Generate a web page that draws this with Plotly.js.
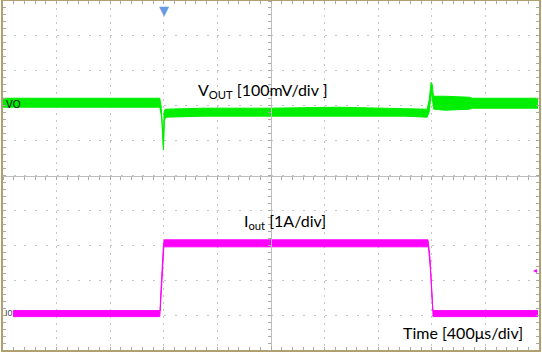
<!DOCTYPE html>
<html>
<head>
<meta charset="utf-8">
<script src="https://cdn.plot.ly/plotly-3.0.1.min.js"></script>
<style>html,body{margin:0;padding:0;background:#fff;}#chart{width:542px;height:352px;}</style>
</head>
<body>
<div id="chart"></div>
<script>
// Oscilloscope capture: 10 x 400 us horizontal divisions, vertical values in screen divisions (-5..5)
// VOUT channel (green) noise-band envelope, 100 mV/div
const voutTimeUpper = [0, 1170, 1180, 1190, 1197, 1202, 1212, 1500, 2000, 2500, 3000, 3165, 3180, 3195, 3203, 3212, 3300, 3480, 3500, 3993];
const voutUpper     = [2.214, 2.214, 2.0, 1.443, 0.871, 1.829, 1.9, 1.929, 1.929, 1.957, 1.929, 1.9, 2.157, 2.671, 2.614, 2.271, 2.271, 2.243, 2.214, 2.214];
const voutTimeLower = [0, 1170, 1185, 1197, 1205, 1215, 1500, 2000, 2500, 3000, 3165, 3180, 3197, 3208, 3215, 3300, 3480, 3500, 3993];
const voutLower     = [1.957, 1.957, 1.643, 0.729, 1.586, 1.671, 1.7, 1.7, 1.7, 1.7, 1.671, 1.814, 2.386, 2.157, 1.9, 1.871, 1.9, 1.929, 1.929];
// IOUT channel (magenta) noise-band envelope, 1 A/div
const ioutTimeUpper = [75, 1172, 1179, 1187, 1198, 1203, 3172, 3187, 3200, 3208, 3993];
const ioutUpper     = [-3.871, -3.871, -3.271, -2.557, -1.957, -1.843, -1.843, -2.386, -3.243, -3.871, -3.871];
const ioutTimeLower = [75, 1170, 1178, 1188, 1200, 1206, 3175, 3190, 3203, 3210, 3993];
const ioutLower     = [-4.043, -4.043, -3.557, -2.7, -2.071, -2.043, -2.043, -2.7, -3.557, -4.043, -4.043];
const triggerTime = 1200;
const labels = {
  vout: 'V<sub>OUT</sub> [100mV/div ]',
  iout: 'I<sub>out</sub> [1A/div]',
  time: 'Time [400\u03bcs/div]'
};

const green = 'rgb(0,238,0)';
const magenta = 'rgb(255,0,255)';
const traces = [
  {x: voutTimeLower, y: voutLower, mode: 'lines', line: {color: green, width: 1}, xaxis: 'x', yaxis: 'y', hoverinfo: 'skip'},
  {x: voutTimeUpper, y: voutUpper, mode: 'lines', line: {color: green, width: 1}, fill: 'tonexty', fillcolor: green, xaxis: 'x', yaxis: 'y', hoverinfo: 'skip'},
  {x: ioutTimeLower, y: ioutLower, mode: 'lines', line: {color: magenta, width: 1}, xaxis: 'x2', yaxis: 'y2', hoverinfo: 'skip'},
  {x: ioutTimeUpper, y: ioutUpper, mode: 'lines', line: {color: magenta, width: 1}, fill: 'tonexty', fillcolor: magenta, xaxis: 'x2', yaxis: 'y2', hoverinfo: 'skip'}
];

const frame = '#b0a070';
const tickc = '#a8a8a8';
const gridc = '#c4c4c4';
const txtFont = {family: 'Lato, "Open Sans", sans-serif', size: 16, color: '#000'};

const layout = {
  width: 542, height: 352,
  margin: {l: 3, r: 3, t: 1, b: 2, pad: 0},
  paper_bgcolor: '#fff', plot_bgcolor: '#fff',
  showlegend: false,
  xaxis: {
    range: [0, 4000], tick0: 0, dtick: 400, showticklabels: false,
    showgrid: true, gridcolor: gridc, gridwidth: 1, griddash: '2px,5px',
    zeroline: false, showline: true, linecolor: frame, linewidth: 2, mirror: 'ticks',
    ticks: 'inside', ticklen: 3, tickcolor: tickc, tickwidth: 1,
    minor: {dtick: 80, ticks: 'inside', ticklen: 3, tickcolor: tickc, showgrid: false},
    fixedrange: true
  },
  yaxis: {
    range: [-5, 5], tick0: 0, dtick: 1, showticklabels: false,
    showgrid: true, gridcolor: gridc, gridwidth: 1, griddash: '2px,8.72px',
    zeroline: false, showline: true, linecolor: frame, linewidth: 2, mirror: 'ticks',
    ticks: 'inside', ticklen: 3, tickcolor: tickc, tickwidth: 1,
    minor: {dtick: 0.2, ticks: 'inside', ticklen: 3, tickcolor: tickc, showgrid: false},
    fixedrange: true
  },
  xaxis2: {
    overlaying: 'x', anchor: 'free', position: 0.5, range: [0, 4000], tick0: 0, dtick: 400,
    showticklabels: false, showgrid: false, zeroline: false,
    showline: true, linecolor: '#bdbdbd', linewidth: 1,
    ticks: 'outside', ticklen: 3, tickcolor: tickc,
    minor: {dtick: 80, ticks: 'outside', ticklen: 3, tickcolor: tickc, showgrid: false},
    fixedrange: true
  },
  yaxis2: {
    overlaying: 'y', anchor: 'free', position: 0.5, range: [-5, 5], tick0: 0, dtick: 1,
    showticklabels: false, showgrid: false, zeroline: false,
    showline: true, linecolor: '#bdbdbd', linewidth: 1,
    ticks: 'outside', ticklen: 3, tickcolor: tickc,
    minor: {dtick: 0.2, ticks: 'outside', ticklen: 3, tickcolor: tickc, showgrid: false},
    fixedrange: true
  },
  annotations: [
    {text: labels.vout, x: 1440, y: 2.44, xref: 'x', yref: 'y', xanchor: 'left', yanchor: 'middle', showarrow: false, font: txtFont},
    {text: labels.iout, x: 1780, y: -1.33, xref: 'x', yref: 'y', xanchor: 'left', yanchor: 'middle', showarrow: false, font: txtFont},
    {text: labels.time, x: 2970, y: -4.5, xref: 'x', yref: 'y', xanchor: 'left', yanchor: 'middle', showarrow: false, font: txtFont},
    {text: 'VO', x: 7, y: 2.04, xref: 'x', yref: 'y', xanchor: 'left', yanchor: 'middle', showarrow: false, font: {family: 'Liberation Sans, sans-serif', size: 10, color: '#000'}},
    {text: 'I0', x: 0, y: -3.93, xref: 'x', yref: 'y', xanchor: 'left', yanchor: 'middle', showarrow: false, font: {family: 'Liberation Sans, sans-serif', size: 9, color: '#444'}},
    {text: '\u25BC', x: triggerTime, y: 1, xref: 'x', yref: 'paper', xanchor: 'center', yanchor: 'top', showarrow: false, font: {family: 'DejaVu Sans', size: 13, color: '#6a9ae0'}},
    {text: '\u25C2', x: 1, y: -2.73, xref: 'paper', yref: 'y', xanchor: 'right', yanchor: 'middle', showarrow: false, font: {family: 'DejaVu Sans', size: 8, color: magenta}}
  ]
};

Plotly.newPlot('chart', traces, layout, {staticPlot: true, displayModeBar: false});
</script>
</body>
</html>
